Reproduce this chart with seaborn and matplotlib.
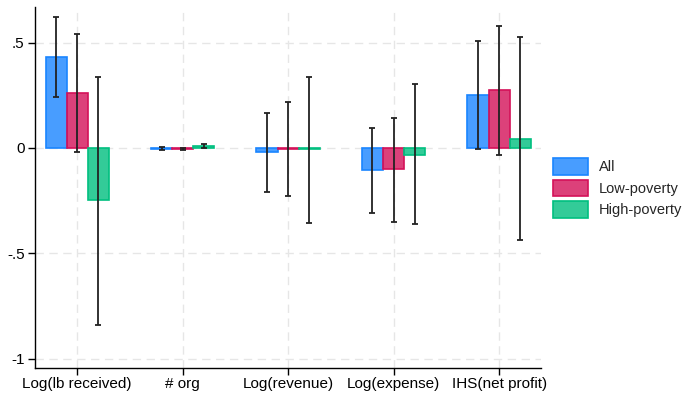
import matplotlib
matplotlib.use("Agg")
import matplotlib.pyplot as plt
import seaborn as sns
import pandas as pd
import numpy as np
from matplotlib.patches import Patch
from matplotlib.colors import to_rgba

categories = ["Log(lb received)", "# org", "Log(revenue)", "Log(expense)", "IHS(net profit)"]
series = ["All", "Low-poverty", "High-poverty"]

all_vals = [0.430, -0.003, -0.021, -0.106, 0.250]
all_lo = [0.241, -0.008, -0.209, -0.310, -0.006]
all_hi = [0.623, 0.003, 0.165, 0.094, 0.506]

low_vals = [0.260, -0.004, -0.003, -0.101, 0.274]
low_lo = [-0.019, -0.009, -0.228, -0.351, -0.033]
low_hi = [0.543, 0.002, 0.218, 0.142, 0.580]

high_vals = [-0.248, 0.008, -0.004, -0.032, 0.043]
high_lo = [-0.840, 0.000, -0.356, -0.362, -0.437]
high_hi = [0.338, 0.018, 0.338, 0.304, 0.528]

yticks = [-1, -0.5, 0, 0.5]
ytick_labels = ["-1", "-.5", "0", ".5"]

colors = ["#1a85ff", "#d41159", "#00bf7f"]

rows = []
for s, v, lo, hi in [("All", all_vals, all_lo, all_hi),
                     ("Low-poverty", low_vals, low_lo, low_hi),
                     ("High-poverty", high_vals, high_lo, high_hi)]:
    for c, vv, l, h in zip(categories, v, lo, hi):
        rows.append({"cat": c, "series": s, "val": vv, "lo": l, "hi": h})
df = pd.DataFrame(rows)

sns.set_style("white")
plt.rcParams["font.family"] = ["Liberation Sans", "DejaVu Sans"]

fig = plt.figure(figsize=(6.86, 3.93), dpi=100)
ax = fig.add_axes([0.051, 0.064, 0.738, 0.918])

# grid first
for yt in yticks:
    ax.axhline(yt, color="#e6e6e6", lw=1.0, ls=(0, (6, 4)), zorder=0)
for i in range(len(categories)):
    ax.axvline(i, color="#e6e6e6", lw=1.0, ls=(0, (6, 4)), zorder=0)

sns.barplot(data=df, x="cat", y="val", hue="series", order=categories,
            hue_order=series, palette=colors, errorbar=None, width=0.6,
            gap=0, ax=ax, legend=False, zorder=2)

for container, s, col in zip(ax.containers, series, colors):
    sub = df[df.series == s].set_index("cat").loc[categories]
    xs = []
    for bar in container:
        bar.set_facecolor(to_rgba(col, 0.8))
        bar.set_edgecolor(col)
        bar.set_linewidth(1.2)
        xs.append(bar.get_x() + bar.get_width() / 2)
    xs = np.array(xs)
    vals = sub["val"].values
    yerr = np.vstack([vals - sub["lo"].values, sub["hi"].values - vals])
    ax.errorbar(xs, vals, yerr=yerr, fmt="none", ecolor="#222222",
                elinewidth=1.3, capsize=2.2, capthick=1.3, zorder=3)

ax.set_xlim(-0.4, 4.4)
ax.set_ylim(-1.044, 0.669)
ax.set_yticks(yticks)
ax.set_yticklabels(ytick_labels)
ax.set_xlabel("")
ax.set_ylabel("")
for sp in ["top", "right"]:
    ax.spines[sp].set_visible(False)
for sp in ["left", "bottom"]:
    ax.spines[sp].set_color("black")
    ax.spines[sp].set_linewidth(1.0)
ax.tick_params(axis="both", which="both", length=5, width=1, color="black",
               labelsize=11, labelcolor="black", direction="out",
               left=True, bottom=True)
ax.tick_params(axis="x", pad=1.5)
ax.tick_params(axis="y", pad=2.5)

handles = [Patch(facecolor=to_rgba(c, 0.8), edgecolor=c, linewidth=1.2, label=s)
           for s, c in zip(series, colors)]
fig.legend(handles=handles, loc="center left", bbox_to_anchor=(0.798, 0.522),
           frameon=False, fontsize=10.5, handlelength=2.4, handleheight=1.35,
           handletextpad=0.7, labelspacing=0.35, borderaxespad=0)

fig.savefig("out.png", dpi=100)
